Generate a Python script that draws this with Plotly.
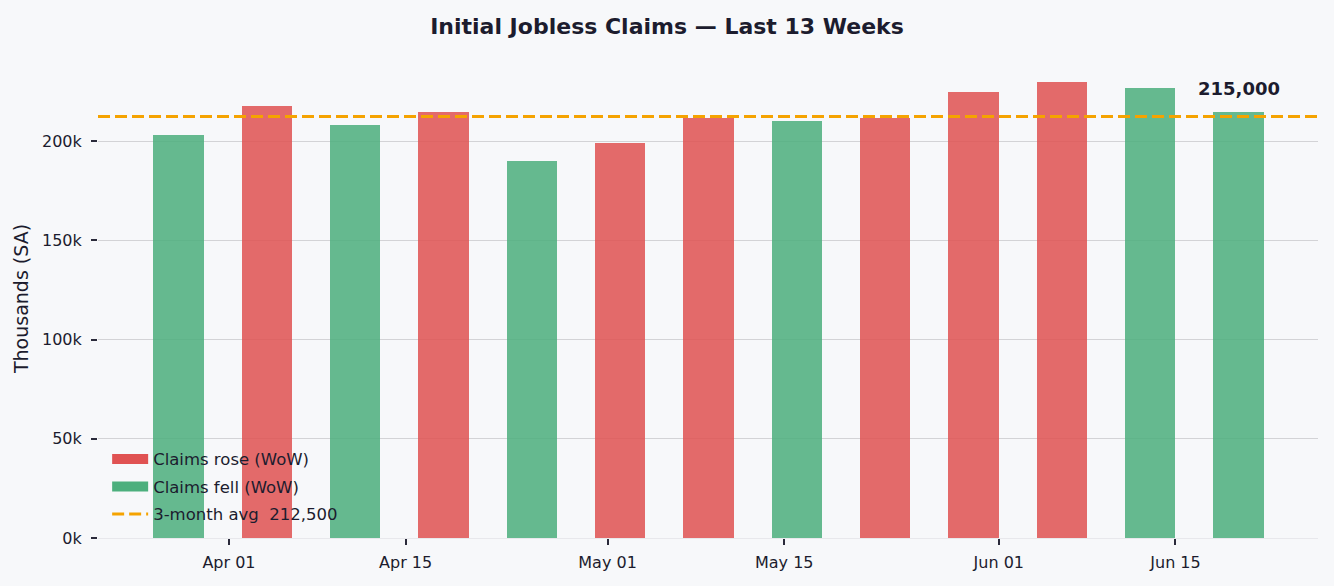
import plotly.graph_objects as go

# weekly initial claims, last 13 weeks (seasonally adjusted)
weeks = ["2025-03-28", "2025-04-04", "2025-04-11", "2025-04-18", "2025-04-25",
         "2025-05-02", "2025-05-09", "2025-05-16", "2025-05-23", "2025-05-30",
         "2025-06-06", "2025-06-13", "2025-06-20"]
claims = [203000, 218000, 208000, 215000, 190000, 199000, 212000,
          210000, 212000, 225000, 230000, 227000, 215000]
avg_3m = 212500

tick_dates = ["2025-04-01", "2025-04-15", "2025-05-01", "2025-05-15", "2025-06-01", "2025-06-15"]
tick_labels = ["Apr 01", "Apr 15", "May 01", "May 15", "Jun 01", "Jun 15"]
y_ticks = [0, 50000, 100000, 150000, 200000]
y_labels = ["0k", "50k", "100k", "150k", "200k"]

RED = "#e05252"
GREEN = "#4caf7d"
ORANGE = "#f5a300"
DARK = "#1c1c2e"
BG = "#f7f8fa"

# colour each bar by week-over-week change (first week compared as fell)
colors = [GREEN]
for i in range(1, len(claims)):
    colors.append(RED if claims[i] > claims[i - 1] else GREEN)

fig = go.Figure()

fig.add_trace(go.Bar(
    x=weeks, y=claims,
    marker=dict(color=colors, line=dict(width=0)),
    opacity=0.85,
    width=4 * 86400000,
    showlegend=False,
    hovertemplate="%{x|%b %d}: %{y:,}<extra></extra>",
))

# 3-month average line across the whole plot
fig.add_shape(type="line", xref="x domain", x0=0, x1=1, yref="y", y0=avg_3m, y1=avg_3m,
              line=dict(color=ORANGE, width=3, dash="12px,5px"), layer="above")

# legend entries (wide swatches)
fig.add_trace(go.Scatter(x=[None], y=[None], mode="lines", name="Claims rose (WoW)",
                         line=dict(color=RED, width=14), legendgroup="a"))
fig.add_trace(go.Scatter(x=[None], y=[None], mode="lines", name="Claims fell (WoW)",
                         line=dict(color=GREEN, width=14), legendgroup="b"))
fig.add_trace(go.Scatter(x=[None], y=[None], mode="lines",
                         name=f"3-month avg  {avg_3m:,}",
                         line=dict(color=ORANGE, width=3, dash="12px,5px"), legendgroup="c"))

fig.add_annotation(x=weeks[-1], y=claims[-1], text=f"<b>{claims[-1]:,}</b>",
                   showarrow=False, yanchor="bottom", yshift=11,
                   font=dict(size=18, color=DARK))

fig.update_layout(
    width=1334, height=586,
    paper_bgcolor=BG, plot_bgcolor=BG,
    font=dict(family="DejaVu Sans", size=16, color=DARK),
    title=dict(text="<b>Initial Jobless Claims — Last 13 Weeks</b>",
               x=0.5, xanchor="center", y=0.955, yanchor="middle",
               font=dict(size=22, color=DARK)),
    margin=dict(l=98, r=16, t=59, b=48),
    legend=dict(x=0.0075, xanchor="left", y=0.013, yanchor="bottom",
                bgcolor="rgba(0,0,0,0)", font=dict(size=16.5, color=DARK),
                traceorder="grouped", tracegroupgap=3, itemwidth=36),
    bargap=0,
)

fig.update_xaxes(
    type="date",
    range=["2025-03-21 15:00", "2025-06-26 07:00"],
    tickvals=tick_dates, ticktext=tick_labels,
    ticks="outside", ticklen=6, tickwidth=1.5, tickcolor="#2a2a3a",
    ticklabelstandoff=4,
    showgrid=False, showline=True, linecolor="#e8e8ec", linewidth=1,
    tickfont=dict(size=16, color=DARK),
)
fig.update_yaxes(
    range=[0, 241500],
    tickvals=y_ticks, ticktext=y_labels,
    ticks="outside", ticklen=6, tickwidth=1.5, tickcolor="#2a2a3a",
    ticklabelstandoff=6,
    showgrid=True, gridcolor="#d3d3d6", gridwidth=1,
    zeroline=False, showline=False,
    title=dict(text="Thousands (SA)", font=dict(size=19, color=DARK), standoff=8),
    tickfont=dict(size=16, color=DARK),
)

fig.write_html("out.html", config={"displayModeBar": False},
               post_script="document.body.style.margin='0';document.body.style.background='%s';" % BG)
